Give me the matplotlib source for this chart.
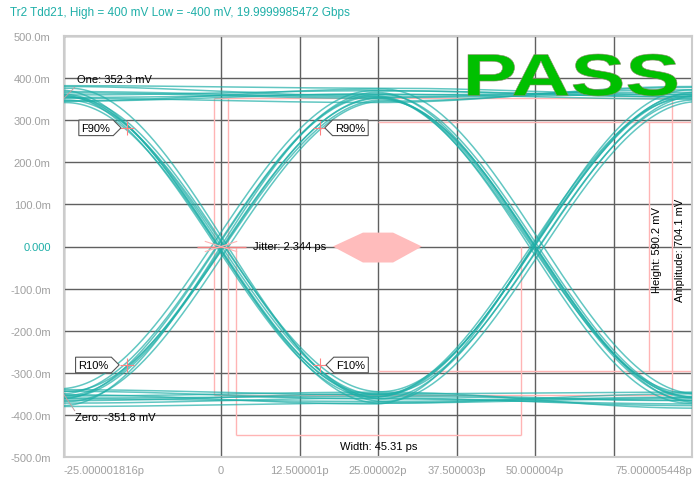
import numpy as np
import matplotlib.pyplot as plt
from matplotlib.path import Path
from matplotlib.patches import PathPatch, Polygon
from matplotlib.textpath import TextPath
from matplotlib.font_manager import FontProperties
from matplotlib.transforms import Affine2D

plt.rcParams['font.family'] = ['Liberation Sans', 'DejaVu Sans']

# Eye data: each trace is given by its level (mV) at the bit centres -25, 25, 75 ps
bit_times = [-25.0, 25.0, 75.0]
trace_levels = [
    [368, 355, 372], [345, 362, 350], [382, 376, 360], [352, 342, 380], [360, 370, 356],
    [-372, -360, -378], [-340, -352, -365], [-380, -372, -350], [-355, -346, -384], [-362, -368, -358],
    [360, -358, 352], [348, -345, 366], [376, -368, 344], [356, -352, 358],
    [-362, 356, -348], [-344, 348, -370], [-378, 366, -356], [-354, 352, -360],
    [355, -362, -374], [372, -350, -346], [342, -372, -360], [362, -356, -366],
    [-350, 360, 366], [-368, 345, 378], [-338, 370, 355], [-358, 354, 362],
    [365, 352, -366], [346, 374, -350], [380, 358, -372], [354, 362, -358],
    [-366, -350, 358], [-352, -374, 372], [-344, -362, 348], [-360, -356, 362],
]
trace_skew = [
    0.3, -0.6, 0.9, -0.2, 0.5,
    0.5, -0.9, 0.1, 0.7, -0.3,
    -0.8, 0.4, 0.9, 0.0,
    -0.7, 0.6, -0.3, 0.2,
    0.8, -0.9, 0.2, -0.4,
    -0.5, 0.7, -0.8, 0.3,
    0.0, 0.8, -0.6, 0.4,
    0.9, -0.4, 0.3, -0.1,
]

# measurements
one_level = 352.3
zero_level = -351.8
jitter_pp = 2.344
width_start = 2.39
eye_width = 45.31
eye_height = 590.2
amplitude = 704.1
height_t = 68.2
ampl_t = 71.8
edge_t = 15.0
mask_t = [17.8, 22.6, 27.4, 32.0, 27.4, 22.6]
mask_v = [0, 33, 33, 0, -38, -38]

xticks = [-25, 0, 12.5, 25, 37.5, 50, 62.5, 75]
xlabels = ['-25.000001816p', '0', '12.500001p', '25.000002p', '37.500003p',
           '50.000004p', '', '75.000005448p']
yticks = [500, 400, 300, 200, 100, 0, -100, -200, -300, -400, -500]
ylabels = ['500.0m', '400.0m', '300.0m', '200.0m', '100.0m', '0.000',
           '-100.0m', '-200.0m', '-300.0m', '-400.0m', '-500.0m']

teal = '#1fafa8'
pink = '#ffb4b4'

fig = plt.figure(figsize=(6.98, 4.81), dpi=100)
ax = fig.add_axes([64 / 698, 1 - 458 / 481, 628 / 698, 421 / 481])

# traces
t = np.linspace(-25, 75, 500)
for lev, sk in zip(trace_levels, trace_skew):
    tt = np.clip(t - sk, -25, 75)
    i = np.clip(((tt + 25) // 50).astype(int), 0, 1)
    c0 = np.array(bit_times)[i]
    l0 = np.array(lev)[i]
    l1 = np.array(lev)[i + 1]
    frac = (1 - np.cos(np.pi * (tt - c0) / 50)) / 2
    ax.plot(t, l0 + (l1 - l0) * frac, color=teal, lw=1.1, alpha=0.7, zorder=3)

# measurement overlays
ax.hlines([one_level, zero_level], -jitter_pp / 2, ampl_t, color=pink, lw=1, zorder=2)
ax.vlines([-jitter_pp / 2, jitter_pp / 2], zero_level, one_level, color=pink, lw=1, zorder=2)
ax.vlines(ampl_t, zero_level, one_level, color=pink, lw=1, zorder=2)
ax.hlines([eye_height / 2, -eye_height / 2], 25, 75, color=pink, lw=1, zorder=2)
ax.vlines(height_t, -eye_height / 2, eye_height / 2, color=pink, lw=1, zorder=2)
ax.vlines([width_start, width_start + eye_width], -447, 0, color=pink, lw=1, zorder=2)
ax.hlines(-447, width_start, width_start + eye_width, color=pink, lw=1, zorder=2)
ax.hlines(0, -3.8, 4.0, color='#f08080', lw=1, zorder=4)
for d in [(-2.5, 12), (2.5, 12)]:
    ax.plot([-d[0], d[0]], [-d[1], d[1]], color=pink, lw=0.8, zorder=4)
ax.add_patch(Polygon(list(zip(mask_t, mask_v)), closed=True, fc='#ffbcbc', ec='none', zorder=2))

# 90% / 10% markers
ones90 = zero_level + 0.9 * amplitude
ones10 = zero_level + 0.1 * amplitude
pts = [(-edge_t, ones90), (edge_t + 0.8, ones90), (-edge_t, ones10), (edge_t + 0.8, ones10)]
for px, py in pts:
    ax.plot(px, py, marker='+', ms=10, mew=0.8, color='#ff8080', zorder=5)


def pent(direction):
    def style(x0, y0, width, height, mutation_size):
        pad = 0.25 * mutation_size
        x0, y0 = x0 - pad, y0 - pad
        x1, y1 = x0 + width + 2 * pad, y0 + height + 2 * pad
        ym = (y0 + y1) / 2
        tip = (y1 - y0) / 2
        if direction == 'right':
            v = [(x0, y0), (x1, y0), (x1 + tip, ym), (x1, y1), (x0, y1), (x0, y0)]
        else:
            v = [(x0, y0), (x1, y0), (x1, y1), (x0, y1), (x0 - tip, ym), (x0, y0)]
        return Path(v, closed=True)
    return style


box = dict(fc='white', ec='#555555', lw=0.8)
ax.text(-edge_t - 2.6, ones90, 'F90%', ha='right', va='center', fontsize=8, zorder=6,
        bbox=dict(boxstyle=pent('right'), **box))
ax.text(edge_t + 3.2, ones90, 'R90%', ha='left', va='center', fontsize=8, zorder=6,
        bbox=dict(boxstyle=pent('left'), **box))
ax.text(-edge_t - 2.9, ones10, 'R10%', ha='right', va='center', fontsize=8, zorder=6,
        bbox=dict(boxstyle=pent('right'), **box))
ax.text(edge_t + 3.4, ones10, 'F10%', ha='left', va='center', fontsize=8, zorder=6,
        bbox=dict(boxstyle=pent('left'), **box))

# text labels
ax.plot([-25, -23.3], [one_level, 378], color='#c0a0a0', lw=0.7, zorder=4)
ax.plot([-25, -23.3], [zero_level, -390], color='#c0a0a0', lw=0.7, zorder=4)
ax.text(-23.0, 397, f'One: {one_level} mV', fontsize=8, va='center', zorder=6)
ax.text(-23.2, -404, f'Zero: {zero_level} mV', fontsize=8, va='center', zorder=6)
ax.text(5.1, 0, f'Jitter: {jitter_pp} ps', fontsize=8, va='center', zorder=6)
ax.text(width_start + eye_width / 2, -473, f'Width: {eye_width} ps', fontsize=8,
        ha='center', va='center', zorder=6)
ax.text(height_t + 1.3, -7, f'Height: {eye_height} mV', fontsize=8, rotation=90,
        ha='center', va='center', zorder=6)
ax.text(ampl_t + 1.3, -7, f'Amplitude: {amplitude} mV', fontsize=8, rotation=90,
        ha='center', va='center', zorder=6)

# PASS stamp
tp = TextPath((0, 0), 'PASS', size=1, prop=FontProperties(family='Liberation Sans', weight='bold'))
ext = tp.get_extents()
bx0, bx1, by0, by1 = (468 - 64) / 628, (677 - 64) / 628, (458 - 97) / 421, (458 - 55) / 421
tr = Affine2D().translate(-ext.x0, -ext.y0).scale((bx1 - bx0) / ext.width, (by1 - by0) / ext.height) \
    .translate(bx0, by0)
ax.add_patch(PathPatch(tr.transform_path(tp), transform=ax.transAxes, fc='#00c000',
                       ec='#8a8a6a', lw=0.4, zorder=7))

# axes styling
ax.set_xlim(-25, 75)
ax.set_ylim(-500, 500)
ax.set_xticks(xticks)
ax.set_xticklabels(xlabels)
ax.set_yticks(yticks)
ax.set_yticklabels(ylabels)
ax.tick_params(length=0, labelsize=8, labelcolor='#a0a0a0')
ax.tick_params(axis='y', pad=9.5)
ax.tick_params(axis='x', pad=6)
ax.grid(True, color='#606060', lw=1)
ax.set_axisbelow(True)
for s in ax.spines.values():
    s.set_color('#cccccc')
    s.set_linewidth(1.5)
for lab in ax.get_yticklabels():
    if lab.get_text() == '0.000':
        lab.set_color(teal)
xl = ax.get_xticklabels()
xl[0].set_ha('left')
xl[-1].set_ha('right')

fig.text(10 / 698, 1 - 13 / 481, 'Tr2 Tdd21, High = 400 mV Low = -400 mV, 19.9999985472 Gbps',
         color=teal, fontsize=8.5, va='center')

fig.savefig('out.png', dpi=100)
